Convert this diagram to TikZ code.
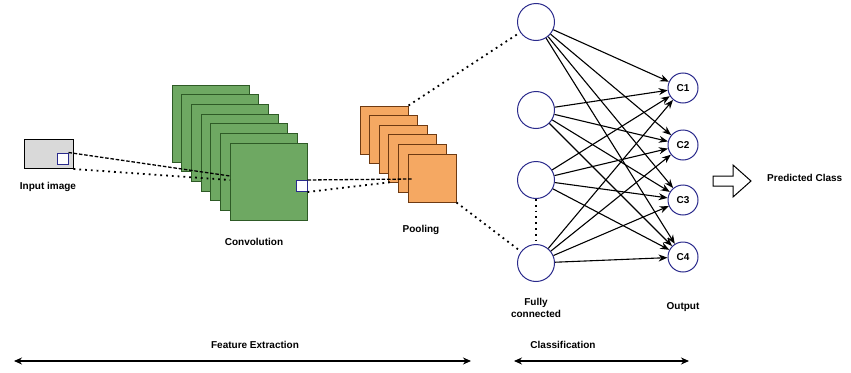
\documentclass[tikz,border=0pt]{standalone}
\usepackage{fontspec}
\setmainfont{Liberation Sans}
\usetikzlibrary{arrows.meta,calc}
\definecolor{convfill}{HTML}{6EA862}
\definecolor{convdraw}{HTML}{2E5A26}
\definecolor{poolfill}{HTML}{F5A862}
\definecolor{pooldraw}{HTML}{6E3A12}
\definecolor{navy}{HTML}{2A2A8C}
\tikzset{
  lbl/.style={font=\fontsize{10}{12}\selectfont\bfseries, inner sep=1pt},
  convsq/.style={draw=convdraw, fill=convfill, line width=1pt, minimum size=77pt, inner sep=0pt},
  poolsq/.style={draw=pooldraw, fill=poolfill, line width=1pt, minimum size=48pt, inner sep=0pt},
  patch/.style={draw=navy, fill=white, line width=1pt, minimum size=11pt, inner sep=0pt},
  fcn/.style={circle, draw=navy, fill=white, line width=1pt, minimum size=37pt, inner sep=0pt},
  outn/.style={circle, draw=navy, fill=white, line width=1pt, minimum size=30pt, inner sep=0pt, font=\fontsize{10}{11}\selectfont\bfseries},
  conn/.style={line width=1.1pt, -{Stealth[length=9pt,width=7pt]}},
  dashl/.style={line width=1.3pt, dash pattern=on 3.5pt off 1.8pt},
  dotl/.style={line width=1.8pt, dash pattern=on 1.8pt off 4pt},
  span/.style={line width=1.1pt, {Stealth[length=8pt,width=7pt]}-{Stealth[length=8pt,width=7pt]}}
}
\begin{document}
\begin{tikzpicture}[x=1pt,y=-1pt]
\useasboundingbox (0,0) rectangle (851,372);
% input image
\node[draw=black, fill=black!15, line width=1pt, minimum width=49pt, minimum height=29pt, inner sep=0pt] (inp) at (48.5,154) {};
\node[patch] (inq) at (62.5,158.5) {};
\node[lbl] (inlbl) at (48,187) {Input image};
% convolution stack
\foreach \i in {0,...,6} {
  \node[convsq] (c\i) at ({172+9.67*\i+38.5},{85+9.67*\i+38.5}) {};
}
\node[patch] (cq) at (301.5,186) {};
\node[lbl] (convlbl) at (254,242) {Convolution};
% pooling stack
\foreach \i in {0,...,5} {
  \node[poolsq] (p\i) at ({360+9.6*\i+24},{106+9.6*\i+24}) {};
}
\node[lbl] (poollbl) at (421,230) {Pooling};
% fully connected
\node[fcn] (f1) at (536,22) {};
\node[fcn] (f2) at (536,110) {};
\node[fcn] (f3) at (536,180) {};
\node[fcn] (f4) at (536,263) {};
\node[lbl, align=center] (fclbl) at (536,308) {Fully\\connected};
% outputs
\node[outn] (o1) at (683,88) {C1};
\node[outn] (o2) at (683,145) {C2};
\node[outn] (o3) at (683,200) {C3};
\node[outn] (o4) at (683,257) {C4};
\node[lbl] (outlbl) at (683,307) {Output};
% dashed/dotted links
\coordinate (a1) at (230,176);
\coordinate (a2) at (230,180);
\draw[dashl] (inq.north east) -- (a1);
\draw[dotl] (inp.south east) -- (a2);
\coordinate (b1) at (412,179);
\coordinate (b2) at (392,182);
\draw[dashl] (cq.north east) -- (b1);
\draw[dotl] (cq.south east) -- (b2);
\draw[dotl] (p0.north east) -- (f1);
\draw[dotl] (p5.south east) -- (f4);
\draw[dotl] (f3.south) -- (f4.north);
% full connections
\foreach \a in {1,...,4} {
  \foreach \b in {1,...,4} {
    \draw[conn] (f\a) -- (o\b);
  }
}
% predicted class
\draw[line width=1pt, fill=white] (713,176) -- (733,176) -- (733,165) -- (751,181) -- (733,197) -- (733,186) -- (713,186) -- cycle;
\node[lbl, anchor=west] (pred) at (766,178) {Predicted Class};
% bottom spans
\coordinate (fe1) at (14,361);
\coordinate (fe2) at (471,361);
\coordinate (cl1) at (514,361);
\coordinate (cl2) at (689,361);
\draw[span] (fe1) -- (fe2);
\draw[span] (cl1) -- (cl2);
\node[lbl] (felbl) at (255,345) {Feature Extraction};
\node[lbl] (cllbl) at (563,345) {Classification};
\end{tikzpicture}
\end{document}
